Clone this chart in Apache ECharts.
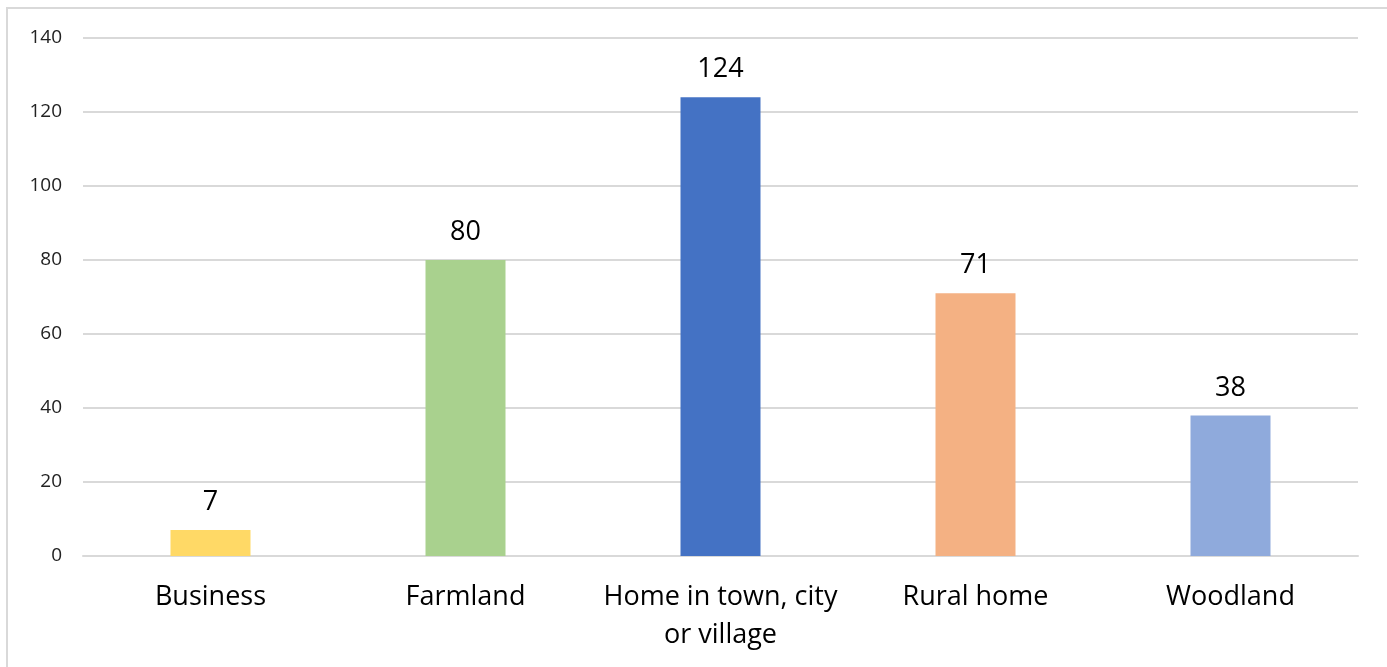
<!DOCTYPE html>
<html>
<head>
<meta charset="utf-8">
<script src="https://cdn.jsdelivr.net/npm/echarts@6/dist/echarts.min.js"></script>
<style>
  html, body { margin: 0; padding: 0; background: #fff; }
  #chart { width: 1387px; height: 667px; }
</style>
</head>
<body>
<div id="chart"></div>
<script>
const categories = ["Business", "Farmland", "Home in town, city or village", "Rural home", "Woodland"];
const values = [7, 80, 124, 71, 38];
const barColors = ["#FFD966", "#A9D18E", "#4472C4", "#F4B183", "#8FAADC"];

const chartDom = document.getElementById("chart");
const myChart = echarts.init(chartDom);

myChart.setOption({
  animation: false,
  textStyle: { fontFamily: "'Open Sans', sans-serif" },
  graphic: [
    {
      type: "rect",
      shape: { x: 7, y: 8, width: 1500, height: 800 },
      style: { fill: "none", stroke: "#d9d9d9", lineWidth: 2 },
    },
  ],
  grid: { left: 83, right: 29, top: 38, bottom: 111 },
  xAxis: {
    type: "category",
    data: categories,
    axisLine: { lineStyle: { color: "#d9d9d9", width: 2 } },
    axisTick: { show: false },
    axisLabel: {
      interval: 0,
      color: "#000",
      fontSize: 27,
      lineHeight: 38,
      margin: 22,
      formatter: (v) => v.replace(", city ", ", city\n"),
    },
  },
  yAxis: {
    type: "value",
    min: 0,
    max: 140,
    interval: 20,
    axisLine: { show: false },
    axisTick: { show: false },
    splitLine: { lineStyle: { color: "#d9d9d9", width: 2 } },
    axisLabel: { color: "#222", fontSize: 19, margin: 21 },
  },
  series: [
    {
      type: "bar",
      barWidth: 80,
      data: values.map((v, i) => ({ value: v, itemStyle: { color: barColors[i] } })),
      label: {
        show: true,
        position: "top",
        distance: 14,
        color: "#000",
        fontSize: 27,
      },
    },
  ],
});
</script>
</body>
</html>
